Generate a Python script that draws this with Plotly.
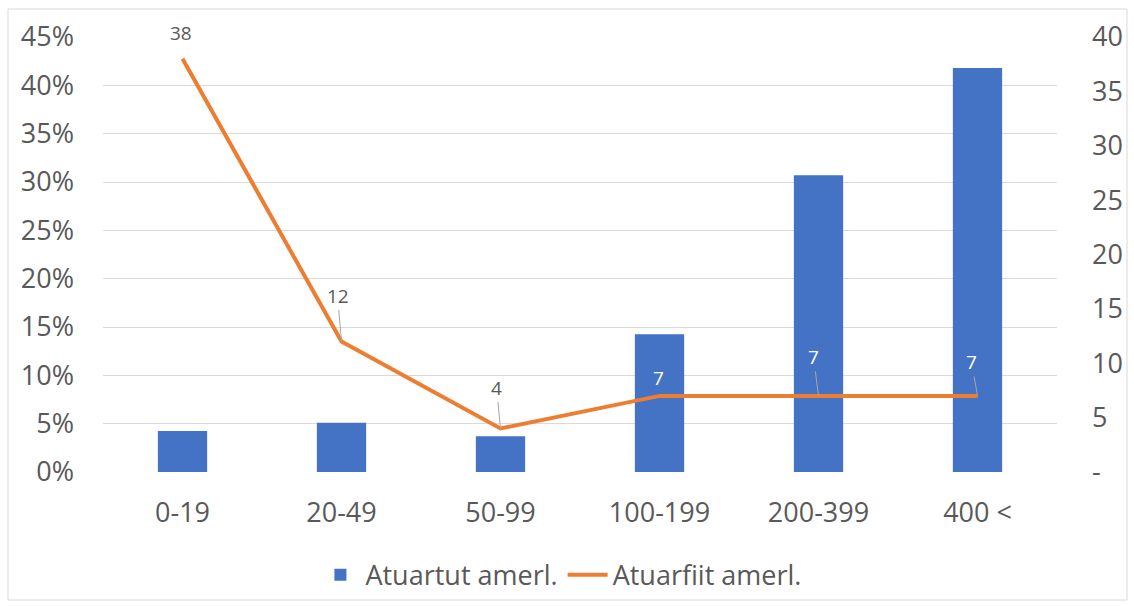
import plotly.graph_objects as go

categories = ["0-19", "20-49", "50-99", "100-199", "200-399", "400 <"]
bar_values = [0.0425, 0.051, 0.037, 0.1425, 0.307, 0.418]
line_values = [38, 12, 4, 7, 7, 7]
bar_name = "Atuartut amerl."
line_name = "Atuarfiit amerl."
left_ticks = [0, 0.05, 0.10, 0.15, 0.20, 0.25, 0.30, 0.35, 0.40, 0.45]
left_labels = ["0%", "5%", "10%", "15%", "20%", "25%", "30%", "35%", "40%", "45%"]
right_ticks = [0, 5, 10, 15, 20, 25, 30, 35, 40]
right_labels = ["-", "5", "10", "15", "20", "25", "30", "35", "40"]

FONT = "Open Sans, Liberation Sans, sans-serif"
GRAY = "#595959"

fig = go.Figure()
fig.add_trace(go.Bar(x=categories, y=bar_values, name=bar_name,
                     marker=dict(color="#4472C4", line=dict(width=0)),
                     width=0.31, yaxis="y"))
fig.add_trace(go.Scatter(x=categories, y=line_values, name=line_name,
                         mode="lines", line=dict(color="#ED7D31", width=4),
                         yaxis="y2"))

# data labels (offsets in px: ax, ay; arrow flag; colour)
label_style = [
    (-2, -26, False, GRAY),
    (-4, -46, True, GRAY),
    (-4, -41, True, GRAY),
    (-1, -18, False, "white"),
    (-5, -39, True, "white"),
    (-6, -34, True, "white"),
]
for cat, val, (ax, ay, arrow, col) in zip(categories, line_values, label_style):
    if arrow:
        fig.add_annotation(x=cat, y=val, xref="x", yref="y2", text=str(val),
                           showarrow=True, arrowhead=0, arrowwidth=1,
                           arrowcolor="#A6A6A6", ax=ax, ay=ay, standoff=0,
                           startstandoff=0,
                           font=dict(family=FONT, size=19, color=col))
    else:
        fig.add_annotation(x=cat, y=val, xref="x", yref="y2", text=str(val),
                           showarrow=False, xshift=ax, yshift=-ay,
                           font=dict(family=FONT, size=19, color=col))

fig.update_layout(
    width=1134, height=606,
    margin=dict(l=103, r=77, t=37, b=134, autoexpand=False),
    paper_bgcolor="white", plot_bgcolor="white",
    font=dict(family=FONT, color=GRAY),
    bargap=0.69,
    xaxis=dict(showgrid=False, showline=False, zeroline=False, automargin=False,
               tickfont=dict(size=27, color=GRAY), ticklabelstandoff=22),
    yaxis=dict(range=[0, 0.45], tickvals=left_ticks, ticktext=left_labels,
               showgrid=True, gridcolor="#D9D9D9", gridwidth=1.3, automargin=False,
               zeroline=False, showline=False,
               tickfont=dict(size=27, color=GRAY), ticklabelstandoff=28),
    yaxis2=dict(range=[0, 40], tickvals=right_ticks, ticktext=right_labels,
                overlaying="y", side="right", showgrid=False, zeroline=False,
                showline=False, automargin=False, tickfont=dict(size=27, color=GRAY),
                ticklabelstandoff=34),
    legend=dict(orientation="h", x=0.48, xanchor="center", y=-0.237, yanchor="middle",
                font=dict(size=27, color=GRAY), traceorder="normal",
                itemwidth=40, bgcolor="rgba(0,0,0,0)"),
    showlegend=True,
    shapes=[dict(type="rect", xref="paper", yref="paper",
                 x0=-95/954, x1=(1127-103)/954, y0=-(600-472)/435, y1=(472-9)/435,
                 line=dict(color="#D9D9D9", width=1), layer="below")],
)

fig.write_html("out.html", config={"displayModeBar": False},
               post_script="document.body.style.margin='0';document.body.style.overflow='hidden';")
